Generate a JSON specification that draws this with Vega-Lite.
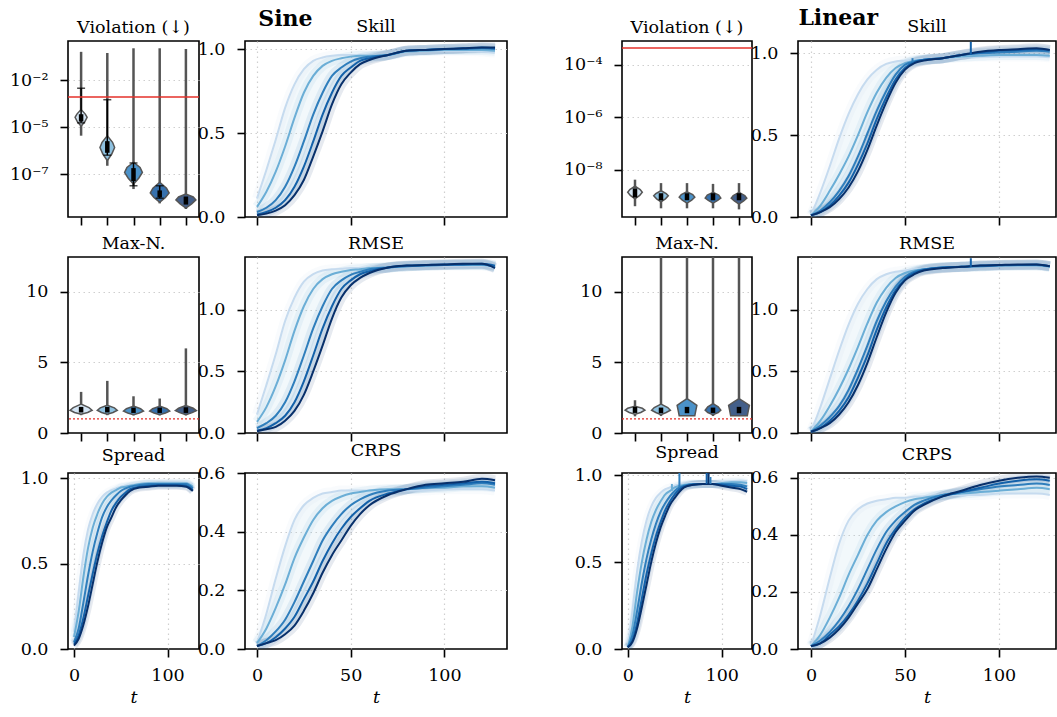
{
"$schema": "https://vega.github.io/schema/vega-lite/v6.json",
"background": "white",
"padding": {"left": 8, "top": 6, "right": 0, "bottom": 0},
"columns": 5,
"spacing": {"row": 40, "column": 46},
"bounds": "flush",
"config": {
  "font": "DejaVu Serif",
  "view": {"stroke": "black", "strokeWidth": 1.6},
  "axis": {"domain": false, "tickColor": "black", "tickSize": 8, "tickWidth": 1.6, "labelFont": "DejaVu Serif", "labelFontSize": 17.5, "labelColor": "black", "labelFlush": false, "labelOverlap": false, "gridColor": "#cfcfcf", "gridDash": [1.5, 3.5], "gridWidth": 1.2, "titleFont": "DejaVu Serif", "titleFontSize": 17.5, "titleFontWeight": "normal", "titleFontStyle": "italic", "titleColor": "black", "titlePadding": 5},
  "axisX": {"labelPadding": 9},
  "axisY": {"labelPadding": 12, "gridOpacity": {"condition": {"test": "datum.value == 0", "value": 0}, "value": 1}},
  "title": {"font": "DejaVu Serif", "fontSize": 17.5, "fontWeight": "normal", "color": "black", "offset": 5}
},
"datasets": {
"curves": [
{"g":"Sine","m":"Skill","t":0,"a":0.11,"b":0.06,"c":0.03,"d":0.015,"e":0.01},
{"g":"Sine","m":"Skill","t":5,"a":0.28,"b":0.15,"c":0.055,"d":0.03,"e":0.02},
{"g":"Sine","m":"Skill","t":10,"a":0.46,"b":0.27,"c":0.10,"d":0.055,"e":0.038},
{"g":"Sine","m":"Skill","t":15,"a":0.65,"b":0.42,"c":0.18,"d":0.10,"e":0.07},
{"g":"Sine","m":"Skill","t":20,"a":0.79,"b":0.59,"c":0.30,"d":0.18,"e":0.13},
{"g":"Sine","m":"Skill","t":25,"a":0.88,"b":0.74,"c":0.45,"d":0.30,"e":0.22},
{"g":"Sine","m":"Skill","t":30,"a":0.93,"b":0.84,"c":0.61,"d":0.45,"e":0.36},
{"g":"Sine","m":"Skill","t":35,"a":0.95,"b":0.90,"c":0.74,"d":0.61,"e":0.51},
{"g":"Sine","m":"Skill","t":40,"a":0.96,"b":0.93,"c":0.84,"d":0.74,"e":0.67},
{"g":"Sine","m":"Skill","t":45,"a":0.965,"b":0.945,"c":0.89,"d":0.84,"e":0.79},
{"g":"Sine","m":"Skill","t":50,"a":0.965,"b":0.955,"c":0.925,"d":0.89,"e":0.86},
{"g":"Sine","m":"Skill","t":55,"a":0.965,"b":0.96,"c":0.945,"d":0.93,"e":0.91},
{"g":"Sine","m":"Skill","t":60,"a":0.96,"b":0.96,"c":0.955,"d":0.945,"e":0.935},
{"g":"Sine","m":"Skill","t":70,"a":0.965,"b":0.965,"c":0.965,"d":0.965,"e":0.965},
{"g":"Sine","m":"Skill","t":80,"a":0.985,"b":0.985,"c":0.99,"d":0.99,"e":0.99},
{"g":"Sine","m":"Skill","t":90,"a":0.99,"b":0.99,"c":0.995,"d":0.995,"e":0.995},
{"g":"Sine","m":"Skill","t":100,"a":0.99,"b":0.995,"c":1.0,"d":1.0,"e":1.0},
{"g":"Sine","m":"Skill","t":110,"a":0.99,"b":0.995,"c":1.0,"d":1.005,"e":1.005},
{"g":"Sine","m":"Skill","t":120,"a":0.985,"b":0.995,"c":1.005,"d":1.01,"e":1.01},
{"g":"Sine","m":"Skill","t":127,"a":0.98,"b":0.99,"c":1.0,"d":1.005,"e":1.01},
{"g":"Sine","m":"RMSE","t":0,"a":0.15,"b":0.09,"c":0.04,"d":0.02,"e":0.015},
{"g":"Sine","m":"RMSE","t":5,"a":0.39,"b":0.21,"c":0.08,"d":0.04,"e":0.03},
{"g":"Sine","m":"RMSE","t":10,"a":0.64,"b":0.38,"c":0.14,"d":0.08,"e":0.05},
{"g":"Sine","m":"RMSE","t":15,"a":0.91,"b":0.59,"c":0.25,"d":0.14,"e":0.10},
{"g":"Sine","m":"RMSE","t":20,"a":1.10,"b":0.83,"c":0.42,"d":0.25,"e":0.18},
{"g":"Sine","m":"RMSE","t":25,"a":1.23,"b":1.03,"c":0.63,"d":0.42,"e":0.31},
{"g":"Sine","m":"RMSE","t":30,"a":1.29,"b":1.17,"c":0.85,"d":0.63,"e":0.50},
{"g":"Sine","m":"RMSE","t":35,"a":1.32,"b":1.25,"c":1.03,"d":0.85,"e":0.71},
{"g":"Sine","m":"RMSE","t":40,"a":1.33,"b":1.29,"c":1.17,"d":1.03,"e":0.93},
{"g":"Sine","m":"RMSE","t":45,"a":1.335,"b":1.31,"c":1.24,"d":1.17,"e":1.10},
{"g":"Sine","m":"RMSE","t":50,"a":1.34,"b":1.325,"c":1.285,"d":1.24,"e":1.20},
{"g":"Sine","m":"RMSE","t":55,"a":1.34,"b":1.33,"c":1.31,"d":1.29,"e":1.26},
{"g":"Sine","m":"RMSE","t":60,"a":1.34,"b":1.34,"c":1.33,"d":1.315,"e":1.30},
{"g":"Sine","m":"RMSE","t":70,"a":1.345,"b":1.345,"c":1.345,"d":1.345,"e":1.345},
{"g":"Sine","m":"RMSE","t":80,"a":1.355,"b":1.355,"c":1.355,"d":1.36,"e":1.36},
{"g":"Sine","m":"RMSE","t":90,"a":1.36,"b":1.36,"c":1.36,"d":1.365,"e":1.365},
{"g":"Sine","m":"RMSE","t":100,"a":1.36,"b":1.365,"c":1.365,"d":1.37,"e":1.37},
{"g":"Sine","m":"RMSE","t":110,"a":1.36,"b":1.365,"c":1.37,"d":1.37,"e":1.375},
{"g":"Sine","m":"RMSE","t":120,"a":1.36,"b":1.365,"c":1.37,"d":1.375,"e":1.375},
{"g":"Sine","m":"RMSE","t":127,"a":1.34,"b":1.35,"c":1.35,"d":1.36,"e":1.34},
{"g":"Sine","m":"Spread","t":0,"a":0.10,"b":0.07,"c":0.04,"d":0.03,"e":0.02},
{"g":"Sine","m":"Spread","t":5,"a":0.33,"b":0.22,"c":0.12,"d":0.08,"e":0.06},
{"g":"Sine","m":"Spread","t":10,"a":0.55,"b":0.42,"c":0.27,"d":0.18,"e":0.14},
{"g":"Sine","m":"Spread","t":15,"a":0.70,"b":0.59,"c":0.43,"d":0.31,"e":0.25},
{"g":"Sine","m":"Spread","t":20,"a":0.79,"b":0.71,"c":0.57,"d":0.44,"e":0.38},
{"g":"Sine","m":"Spread","t":25,"a":0.85,"b":0.79,"c":0.68,"d":0.56,"e":0.51},
{"g":"Sine","m":"Spread","t":30,"a":0.89,"b":0.85,"c":0.77,"d":0.66,"e":0.62},
{"g":"Sine","m":"Spread","t":35,"a":0.915,"b":0.89,"c":0.83,"d":0.74,"e":0.71},
{"g":"Sine","m":"Spread","t":40,"a":0.93,"b":0.915,"c":0.87,"d":0.81,"e":0.77},
{"g":"Sine","m":"Spread","t":45,"a":0.94,"b":0.93,"c":0.90,"d":0.855,"e":0.83},
{"g":"Sine","m":"Spread","t":50,"a":0.95,"b":0.945,"c":0.925,"d":0.89,"e":0.87},
{"g":"Sine","m":"Spread","t":55,"a":0.955,"b":0.95,"c":0.94,"d":0.915,"e":0.90},
{"g":"Sine","m":"Spread","t":60,"a":0.96,"b":0.955,"c":0.95,"d":0.935,"e":0.925},
{"g":"Sine","m":"Spread","t":70,"a":0.965,"b":0.965,"c":0.96,"d":0.95,"e":0.945},
{"g":"Sine","m":"Spread","t":80,"a":0.97,"b":0.97,"c":0.965,"d":0.955,"e":0.95},
{"g":"Sine","m":"Spread","t":90,"a":0.97,"b":0.97,"c":0.965,"d":0.96,"e":0.955},
{"g":"Sine","m":"Spread","t":100,"a":0.975,"b":0.97,"c":0.965,"d":0.96,"e":0.955},
{"g":"Sine","m":"Spread","t":110,"a":0.975,"b":0.97,"c":0.965,"d":0.96,"e":0.955},
{"g":"Sine","m":"Spread","t":120,"a":0.975,"b":0.97,"c":0.965,"d":0.955,"e":0.95},
{"g":"Sine","m":"Spread","t":127,"a":0.965,"b":0.95,"c":0.94,"d":0.93,"e":0.925},
{"g":"Sine","m":"CRPS","t":0,"a":0.02,"b":0.02,"c":0.01,"d":0.01,"e":0.01},
{"g":"Sine","m":"CRPS","t":5,"a":0.12,"b":0.07,"c":0.03,"d":0.02,"e":0.02},
{"g":"Sine","m":"CRPS","t":10,"a":0.24,"b":0.14,"c":0.06,"d":0.04,"e":0.03},
{"g":"Sine","m":"CRPS","t":15,"a":0.35,"b":0.22,"c":0.10,"d":0.07,"e":0.05},
{"g":"Sine","m":"CRPS","t":20,"a":0.44,"b":0.31,"c":0.16,"d":0.11,"e":0.08},
{"g":"Sine","m":"CRPS","t":25,"a":0.49,"b":0.38,"c":0.23,"d":0.17,"e":0.13},
{"g":"Sine","m":"CRPS","t":30,"a":0.515,"b":0.44,"c":0.30,"d":0.23,"e":0.19},
{"g":"Sine","m":"CRPS","t":35,"a":0.53,"b":0.48,"c":0.37,"d":0.30,"e":0.26},
{"g":"Sine","m":"CRPS","t":40,"a":0.535,"b":0.505,"c":0.42,"d":0.36,"e":0.32},
{"g":"Sine","m":"CRPS","t":45,"a":0.54,"b":0.52,"c":0.46,"d":0.41,"e":0.37},
{"g":"Sine","m":"CRPS","t":50,"a":0.54,"b":0.53,"c":0.49,"d":0.45,"e":0.42},
{"g":"Sine","m":"CRPS","t":55,"a":0.54,"b":0.535,"c":0.51,"d":0.48,"e":0.46},
{"g":"Sine","m":"CRPS","t":60,"a":0.54,"b":0.54,"c":0.525,"d":0.505,"e":0.49},
{"g":"Sine","m":"CRPS","t":70,"a":0.54,"b":0.545,"c":0.54,"d":0.53,"e":0.525},
{"g":"Sine","m":"CRPS","t":80,"a":0.54,"b":0.545,"c":0.545,"d":0.545,"e":0.545},
{"g":"Sine","m":"CRPS","t":90,"a":0.54,"b":0.55,"c":0.55,"d":0.555,"e":0.56},
{"g":"Sine","m":"CRPS","t":100,"a":0.545,"b":0.55,"c":0.555,"d":0.56,"e":0.565},
{"g":"Sine","m":"CRPS","t":110,"a":0.545,"b":0.555,"c":0.56,"d":0.565,"e":0.57},
{"g":"Sine","m":"CRPS","t":120,"a":0.545,"b":0.555,"c":0.565,"d":0.57,"e":0.58},
{"g":"Sine","m":"CRPS","t":127,"a":0.54,"b":0.55,"c":0.56,"d":0.565,"e":0.575},
{"g":"Linear","m":"Skill","t":0,"a":0.01,"b":0.01,"c":0.01,"d":0.01,"e":0.01},
{"g":"Linear","m":"Skill","t":5,"a":0.15,"b":0.07,"c":0.04,"d":0.03,"e":0.03},
{"g":"Linear","m":"Skill","t":10,"a":0.31,"b":0.16,"c":0.09,"d":0.07,"e":0.06},
{"g":"Linear","m":"Skill","t":15,"a":0.48,"b":0.26,"c":0.16,"d":0.13,"e":0.11},
{"g":"Linear","m":"Skill","t":20,"a":0.63,"b":0.37,"c":0.25,"d":0.21,"e":0.18},
{"g":"Linear","m":"Skill","t":25,"a":0.75,"b":0.50,"c":0.37,"d":0.32,"e":0.28},
{"g":"Linear","m":"Skill","t":30,"a":0.84,"b":0.64,"c":0.51,"d":0.45,"e":0.41},
{"g":"Linear","m":"Skill","t":35,"a":0.90,"b":0.76,"c":0.65,"d":0.60,"e":0.56},
{"g":"Linear","m":"Skill","t":40,"a":0.935,"b":0.85,"c":0.77,"d":0.73,"e":0.70},
{"g":"Linear","m":"Skill","t":45,"a":0.95,"b":0.91,"c":0.87,"d":0.84,"e":0.82},
{"g":"Linear","m":"Skill","t":50,"a":0.955,"b":0.94,"c":0.93,"d":0.91,"e":0.90},
{"g":"Linear","m":"Skill","t":55,"a":0.96,"b":0.955,"c":0.95,"d":0.945,"e":0.94},
{"g":"Linear","m":"Skill","t":60,"a":0.965,"b":0.96,"c":0.96,"d":0.96,"e":0.955},
{"g":"Linear","m":"Skill","t":70,"a":0.97,"b":0.97,"c":0.97,"d":0.97,"e":0.97},
{"g":"Linear","m":"Skill","t":80,"a":0.975,"b":0.98,"c":0.99,"d":0.99,"e":0.99},
{"g":"Linear","m":"Skill","t":90,"a":0.98,"b":0.985,"c":1.0,"d":1.005,"e":1.01},
{"g":"Linear","m":"Skill","t":100,"a":0.98,"b":0.99,"c":1.005,"d":1.015,"e":1.02},
{"g":"Linear","m":"Skill","t":110,"a":0.98,"b":0.99,"c":1.01,"d":1.02,"e":1.025},
{"g":"Linear","m":"Skill","t":120,"a":0.98,"b":0.99,"c":1.015,"d":1.025,"e":1.03},
{"g":"Linear","m":"Skill","t":127,"a":0.975,"b":0.985,"c":1.01,"d":1.02,"e":1.02},
{"g":"Linear","m":"RMSE","t":0,"a":0.01,"b":0.01,"c":0.01,"d":0.01,"e":0.01},
{"g":"Linear","m":"RMSE","t":5,"a":0.21,"b":0.10,"c":0.06,"d":0.04,"e":0.04},
{"g":"Linear","m":"RMSE","t":10,"a":0.44,"b":0.22,"c":0.13,"d":0.10,"e":0.08},
{"g":"Linear","m":"RMSE","t":15,"a":0.67,"b":0.36,"c":0.22,"d":0.18,"e":0.15},
{"g":"Linear","m":"RMSE","t":20,"a":0.88,"b":0.52,"c":0.35,"d":0.29,"e":0.25},
{"g":"Linear","m":"RMSE","t":25,"a":1.05,"b":0.70,"c":0.52,"d":0.45,"e":0.39},
{"g":"Linear","m":"RMSE","t":30,"a":1.17,"b":0.89,"c":0.71,"d":0.63,"e":0.57},
{"g":"Linear","m":"RMSE","t":35,"a":1.25,"b":1.06,"c":0.91,"d":0.84,"e":0.78},
{"g":"Linear","m":"RMSE","t":40,"a":1.29,"b":1.18,"c":1.07,"d":1.02,"e":0.98},
{"g":"Linear","m":"RMSE","t":45,"a":1.31,"b":1.26,"c":1.19,"d":1.16,"e":1.14},
{"g":"Linear","m":"RMSE","t":50,"a":1.32,"b":1.30,"c":1.27,"d":1.25,"e":1.24},
{"g":"Linear","m":"RMSE","t":55,"a":1.33,"b":1.32,"c":1.31,"d":1.30,"e":1.29},
{"g":"Linear","m":"RMSE","t":60,"a":1.335,"b":1.33,"c":1.33,"d":1.325,"e":1.32},
{"g":"Linear","m":"RMSE","t":70,"a":1.345,"b":1.345,"c":1.345,"d":1.345,"e":1.34},
{"g":"Linear","m":"RMSE","t":80,"a":1.35,"b":1.35,"c":1.35,"d":1.35,"e":1.35},
{"g":"Linear","m":"RMSE","t":90,"a":1.355,"b":1.355,"c":1.355,"d":1.36,"e":1.36},
{"g":"Linear","m":"RMSE","t":100,"a":1.36,"b":1.36,"c":1.36,"d":1.365,"e":1.365},
{"g":"Linear","m":"RMSE","t":110,"a":1.36,"b":1.36,"c":1.365,"d":1.365,"e":1.37},
{"g":"Linear","m":"RMSE","t":120,"a":1.36,"b":1.36,"c":1.365,"d":1.37,"e":1.37},
{"g":"Linear","m":"RMSE","t":127,"a":1.35,"b":1.35,"c":1.355,"d":1.355,"e":1.355},
{"g":"Linear","m":"Spread","t":0,"a":0.01,"b":0.01,"c":0.01,"d":0.01,"e":0.01},
{"g":"Linear","m":"Spread","t":5,"a":0.22,"b":0.13,"c":0.08,"d":0.05,"e":0.04},
{"g":"Linear","m":"Spread","t":10,"a":0.45,"b":0.33,"c":0.22,"d":0.15,"e":0.12},
{"g":"Linear","m":"Spread","t":15,"a":0.62,"b":0.50,"c":0.38,"d":0.29,"e":0.24},
{"g":"Linear","m":"Spread","t":20,"a":0.74,"b":0.63,"c":0.52,"d":0.43,"e":0.37},
{"g":"Linear","m":"Spread","t":25,"a":0.82,"b":0.73,"c":0.63,"d":0.55,"e":0.50},
{"g":"Linear","m":"Spread","t":30,"a":0.87,"b":0.80,"c":0.72,"d":0.65,"e":0.61},
{"g":"Linear","m":"Spread","t":35,"a":0.90,"b":0.85,"c":0.79,"d":0.73,"e":0.70},
{"g":"Linear","m":"Spread","t":40,"a":0.92,"b":0.89,"c":0.84,"d":0.80,"e":0.77},
{"g":"Linear","m":"Spread","t":45,"a":0.93,"b":0.91,"c":0.88,"d":0.85,"e":0.83},
{"g":"Linear","m":"Spread","t":50,"a":0.94,"b":0.93,"c":0.91,"d":0.89,"e":0.87},
{"g":"Linear","m":"Spread","t":55,"a":0.945,"b":0.94,"c":0.93,"d":0.92,"e":0.905},
{"g":"Linear","m":"Spread","t":60,"a":0.95,"b":0.945,"c":0.94,"d":0.935,"e":0.93},
{"g":"Linear","m":"Spread","t":70,"a":0.955,"b":0.95,"c":0.95,"d":0.945,"e":0.945},
{"g":"Linear","m":"Spread","t":80,"a":0.955,"b":0.95,"c":0.95,"d":0.95,"e":0.95},
{"g":"Linear","m":"Spread","t":90,"a":0.955,"b":0.95,"c":0.95,"d":0.95,"e":0.95},
{"g":"Linear","m":"Spread","t":100,"a":0.96,"b":0.955,"c":0.95,"d":0.945,"e":0.94},
{"g":"Linear","m":"Spread","t":110,"a":0.965,"b":0.96,"c":0.95,"d":0.94,"e":0.93},
{"g":"Linear","m":"Spread","t":120,"a":0.97,"b":0.96,"c":0.945,"d":0.935,"e":0.92},
{"g":"Linear","m":"Spread","t":127,"a":0.965,"b":0.955,"c":0.935,"d":0.92,"e":0.905},
{"g":"Linear","m":"CRPS","t":0,"a":0.01,"b":0.01,"c":0.01,"d":0.01,"e":0.01},
{"g":"Linear","m":"CRPS","t":5,"a":0.12,"b":0.05,"c":0.03,"d":0.02,"e":0.02},
{"g":"Linear","m":"CRPS","t":10,"a":0.25,"b":0.11,"c":0.06,"d":0.05,"e":0.04},
{"g":"Linear","m":"CRPS","t":15,"a":0.37,"b":0.18,"c":0.10,"d":0.08,"e":0.07},
{"g":"Linear","m":"CRPS","t":20,"a":0.45,"b":0.26,"c":0.15,"d":0.12,"e":0.11},
{"g":"Linear","m":"CRPS","t":25,"a":0.49,"b":0.33,"c":0.21,"d":0.17,"e":0.16},
{"g":"Linear","m":"CRPS","t":30,"a":0.51,"b":0.40,"c":0.28,"d":0.23,"e":0.21},
{"g":"Linear","m":"CRPS","t":35,"a":0.52,"b":0.45,"c":0.35,"d":0.30,"e":0.28},
{"g":"Linear","m":"CRPS","t":40,"a":0.525,"b":0.48,"c":0.41,"d":0.37,"e":0.35},
{"g":"Linear","m":"CRPS","t":45,"a":0.53,"b":0.50,"c":0.45,"d":0.42,"e":0.41},
{"g":"Linear","m":"CRPS","t":50,"a":0.53,"b":0.515,"c":0.48,"d":0.46,"e":0.45},
{"g":"Linear","m":"CRPS","t":55,"a":0.535,"b":0.525,"c":0.505,"d":0.49,"e":0.485},
{"g":"Linear","m":"CRPS","t":60,"a":0.535,"b":0.53,"c":0.52,"d":0.51,"e":0.505},
{"g":"Linear","m":"CRPS","t":70,"a":0.54,"b":0.54,"c":0.54,"d":0.535,"e":0.535},
{"g":"Linear","m":"CRPS","t":80,"a":0.54,"b":0.545,"c":0.55,"d":0.55,"e":0.555},
{"g":"Linear","m":"CRPS","t":90,"a":0.54,"b":0.55,"c":0.56,"d":0.565,"e":0.575},
{"g":"Linear","m":"CRPS","t":100,"a":0.545,"b":0.555,"c":0.57,"d":0.58,"e":0.59},
{"g":"Linear","m":"CRPS","t":110,"a":0.545,"b":0.56,"c":0.575,"d":0.59,"e":0.60},
{"g":"Linear","m":"CRPS","t":120,"a":0.545,"b":0.565,"c":0.58,"d":0.595,"e":0.605},
{"g":"Linear","m":"CRPS","t":127,"a":0.54,"b":0.56,"c":0.575,"d":0.59,"e":0.60}
],
"spikes": [
{"g":"Linear","m":"Skill","t":85,"s":"d","lo":0.99,"hi":1.07},
{"g":"Linear","m":"Skill","t":54,"s":"c","lo":0.945,"hi":0.97},
{"g":"Linear","m":"RMSE","t":85,"s":"d","lo":1.35,"hi":1.42},
{"g":"Linear","m":"Spread","t":47,"s":"b","lo":0.91,"hi":0.95},
{"g":"Linear","m":"Spread","t":55,"s":"c","lo":0.93,"hi":1.05},
{"g":"Linear","m":"Spread","t":84,"s":"d","lo":0.95,"hi":1.02},
{"g":"Linear","m":"Spread","t":86,"s":"e","lo":0.95,"hi":1.02},
{"g":"Linear","m":"Spread","t":88,"s":"c","lo":0.95,"hi":0.99}
],
"vio": [
{"g":"Sine","m":"Violation","c":1,"y":5.5e-5,"xl":1,"xr":1},
{"g":"Sine","m":"Violation","c":1,"y":3.55e-5,"xl":0.84,"xr":1.16},
{"g":"Sine","m":"Violation","c":1,"y":2.57e-5,"xl":0.77,"xr":1.23},
{"g":"Sine","m":"Violation","c":1,"y":1.66e-5,"xl":0.86,"xr":1.14},
{"g":"Sine","m":"Violation","c":1,"y":1.1e-5,"xl":1,"xr":1},
{"g":"Sine","m":"Violation","c":2,"y":4.27e-6,"xl":2,"xr":2},
{"g":"Sine","m":"Violation","c":2,"y":2.24e-6,"xl":1.8,"xr":2.2},
{"g":"Sine","m":"Violation","c":2,"y":1.35e-6,"xl":1.72,"xr":2.28},
{"g":"Sine","m":"Violation","c":2,"y":7.08e-7,"xl":1.83,"xr":2.17},
{"g":"Sine","m":"Violation","c":2,"y":3.72e-7,"xl":2,"xr":2},
{"g":"Sine","m":"Violation","c":3,"y":3.16e-7,"xl":3,"xr":3},
{"g":"Sine","m":"Violation","c":3,"y":1.91e-7,"xl":2.75,"xr":3.25},
{"g":"Sine","m":"Violation","c":3,"y":1.17e-7,"xl":2.66,"xr":3.34},
{"g":"Sine","m":"Violation","c":3,"y":6.61e-8,"xl":2.8,"xr":3.2},
{"g":"Sine","m":"Violation","c":3,"y":3.72e-8,"xl":3,"xr":3},
{"g":"Sine","m":"Violation","c":4,"y":4.47e-8,"xl":4,"xr":4},
{"g":"Sine","m":"Violation","c":4,"y":2.51e-8,"xl":3.74,"xr":4.26},
{"g":"Sine","m":"Violation","c":4,"y":1.55e-8,"xl":3.64,"xr":4.36},
{"g":"Sine","m":"Violation","c":4,"y":1.0e-8,"xl":3.78,"xr":4.22},
{"g":"Sine","m":"Violation","c":4,"y":6.31e-9,"xl":4,"xr":4},
{"g":"Sine","m":"Violation","c":5,"y":1.41e-8,"xl":5,"xr":5},
{"g":"Sine","m":"Violation","c":5,"y":1.05e-8,"xl":4.72,"xr":5.28},
{"g":"Sine","m":"Violation","c":5,"y":7.94e-9,"xl":4.62,"xr":5.38},
{"g":"Sine","m":"Violation","c":5,"y":5.37e-9,"xl":4.78,"xr":5.22},
{"g":"Sine","m":"Violation","c":5,"y":3.55e-9,"xl":5,"xr":5},
{"g":"Linear","m":"Violation","c":1,"y":2.4e-9,"xl":1,"xr":1},
{"g":"Linear","m":"Violation","c":1,"y":1.78e-9,"xl":0.8,"xr":1.2},
{"g":"Linear","m":"Violation","c":1,"y":1.41e-9,"xl":0.72,"xr":1.28},
{"g":"Linear","m":"Violation","c":1,"y":1.07e-9,"xl":0.82,"xr":1.18},
{"g":"Linear","m":"Violation","c":1,"y":7.94e-10,"xl":1,"xr":1},
{"g":"Linear","m":"Violation","c":2,"y":1.62e-9,"xl":2,"xr":2},
{"g":"Linear","m":"Violation","c":2,"y":1.26e-9,"xl":1.8,"xr":2.2},
{"g":"Linear","m":"Violation","c":2,"y":1.05e-9,"xl":1.72,"xr":2.28},
{"g":"Linear","m":"Violation","c":2,"y":7.94e-10,"xl":1.83,"xr":2.17},
{"g":"Linear","m":"Violation","c":2,"y":6.17e-10,"xl":2,"xr":2},
{"g":"Linear","m":"Violation","c":3,"y":1.48e-9,"xl":3,"xr":3},
{"g":"Linear","m":"Violation","c":3,"y":1.15e-9,"xl":2.78,"xr":3.22},
{"g":"Linear","m":"Violation","c":3,"y":9.12e-10,"xl":2.7,"xr":3.3},
{"g":"Linear","m":"Violation","c":3,"y":7.08e-10,"xl":2.82,"xr":3.18},
{"g":"Linear","m":"Violation","c":3,"y":5.5e-10,"xl":3,"xr":3},
{"g":"Linear","m":"Violation","c":4,"y":1.41e-9,"xl":4,"xr":4},
{"g":"Linear","m":"Violation","c":4,"y":1.1e-9,"xl":3.78,"xr":4.22},
{"g":"Linear","m":"Violation","c":4,"y":8.51e-10,"xl":3.7,"xr":4.3},
{"g":"Linear","m":"Violation","c":4,"y":6.92e-10,"xl":3.82,"xr":4.18},
{"g":"Linear","m":"Violation","c":4,"y":5.5e-10,"xl":4,"xr":4},
{"g":"Linear","m":"Violation","c":5,"y":1.41e-9,"xl":5,"xr":5},
{"g":"Linear","m":"Violation","c":5,"y":1.07e-9,"xl":4.78,"xr":5.22},
{"g":"Linear","m":"Violation","c":5,"y":8.51e-10,"xl":4.7,"xr":5.3},
{"g":"Linear","m":"Violation","c":5,"y":6.61e-10,"xl":4.82,"xr":5.18},
{"g":"Linear","m":"Violation","c":5,"y":5.01e-10,"xl":5,"xr":5},
{"g":"Sine","m":"MaxN","c":1,"y":2.04,"xl":1,"xr":1},
{"g":"Sine","m":"MaxN","c":1,"y":1.8,"xl":0.7,"xr":1.3},
{"g":"Sine","m":"MaxN","c":1,"y":1.61,"xl":0.58,"xr":1.42},
{"g":"Sine","m":"MaxN","c":1,"y":1.45,"xl":0.75,"xr":1.25},
{"g":"Sine","m":"MaxN","c":1,"y":1.33,"xl":1,"xr":1},
{"g":"Sine","m":"MaxN","c":2,"y":1.96,"xl":2,"xr":2},
{"g":"Sine","m":"MaxN","c":2,"y":1.78,"xl":1.73,"xr":2.27},
{"g":"Sine","m":"MaxN","c":2,"y":1.61,"xl":1.62,"xr":2.38},
{"g":"Sine","m":"MaxN","c":2,"y":1.45,"xl":1.78,"xr":2.22},
{"g":"Sine","m":"MaxN","c":2,"y":1.33,"xl":2,"xr":2},
{"g":"Sine","m":"MaxN","c":3,"y":1.9,"xl":3,"xr":3},
{"g":"Sine","m":"MaxN","c":3,"y":1.72,"xl":2.73,"xr":3.27},
{"g":"Sine","m":"MaxN","c":3,"y":1.55,"xl":2.62,"xr":3.38},
{"g":"Sine","m":"MaxN","c":3,"y":1.42,"xl":2.78,"xr":3.22},
{"g":"Sine","m":"MaxN","c":3,"y":1.3,"xl":3,"xr":3},
{"g":"Sine","m":"MaxN","c":4,"y":1.9,"xl":4,"xr":4},
{"g":"Sine","m":"MaxN","c":4,"y":1.72,"xl":3.73,"xr":4.27},
{"g":"Sine","m":"MaxN","c":4,"y":1.55,"xl":3.62,"xr":4.38},
{"g":"Sine","m":"MaxN","c":4,"y":1.42,"xl":3.78,"xr":4.22},
{"g":"Sine","m":"MaxN","c":4,"y":1.3,"xl":4,"xr":4},
{"g":"Sine","m":"MaxN","c":5,"y":1.95,"xl":5,"xr":5},
{"g":"Sine","m":"MaxN","c":5,"y":1.75,"xl":4.72,"xr":5.28},
{"g":"Sine","m":"MaxN","c":5,"y":1.58,"xl":4.6,"xr":5.4},
{"g":"Sine","m":"MaxN","c":5,"y":1.44,"xl":4.76,"xr":5.24},
{"g":"Sine","m":"MaxN","c":5,"y":1.3,"xl":5,"xr":5},
{"g":"Linear","m":"MaxN","c":1,"y":1.89,"xl":1,"xr":1},
{"g":"Linear","m":"MaxN","c":1,"y":1.75,"xl":0.72,"xr":1.28},
{"g":"Linear","m":"MaxN","c":1,"y":1.61,"xl":0.62,"xr":1.38},
{"g":"Linear","m":"MaxN","c":1,"y":1.45,"xl":0.78,"xr":1.22},
{"g":"Linear","m":"MaxN","c":1,"y":1.33,"xl":1,"xr":1},
{"g":"Linear","m":"MaxN","c":2,"y":2.04,"xl":2,"xr":2},
{"g":"Linear","m":"MaxN","c":2,"y":1.8,"xl":1.74,"xr":2.26},
{"g":"Linear","m":"MaxN","c":2,"y":1.61,"xl":1.64,"xr":2.36},
{"g":"Linear","m":"MaxN","c":2,"y":1.45,"xl":1.8,"xr":2.2},
{"g":"Linear","m":"MaxN","c":2,"y":1.3,"xl":2,"xr":2},
{"g":"Linear","m":"MaxN","c":3,"y":2.44,"xl":3,"xr":3},
{"g":"Linear","m":"MaxN","c":3,"y":2.2,"xl":2.81,"xr":3.19},
{"g":"Linear","m":"MaxN","c":3,"y":1.96,"xl":2.62,"xr":3.38},
{"g":"Linear","m":"MaxN","c":3,"y":1.6,"xl":2.66,"xr":3.34},
{"g":"Linear","m":"MaxN","c":3,"y":1.23,"xl":2.7,"xr":3.3},
{"g":"Linear","m":"MaxN","c":4,"y":2.08,"xl":4,"xr":4},
{"g":"Linear","m":"MaxN","c":4,"y":1.85,"xl":3.8,"xr":4.2},
{"g":"Linear","m":"MaxN","c":4,"y":1.61,"xl":3.7,"xr":4.3},
{"g":"Linear","m":"MaxN","c":4,"y":1.45,"xl":3.8,"xr":4.2},
{"g":"Linear","m":"MaxN","c":4,"y":1.3,"xl":4,"xr":4},
{"g":"Linear","m":"MaxN","c":5,"y":2.44,"xl":5,"xr":5},
{"g":"Linear","m":"MaxN","c":5,"y":2.2,"xl":4.8,"xr":5.2},
{"g":"Linear","m":"MaxN","c":5,"y":1.96,"xl":4.6,"xr":5.4},
{"g":"Linear","m":"MaxN","c":5,"y":1.6,"xl":4.64,"xr":5.36},
{"g":"Linear","m":"MaxN","c":5,"y":1.23,"xl":4.68,"xr":5.32}
],
"vst": [
{"g":"Sine","m":"Violation","c":1,"lo":4.27e-6,"hi":0.0158,"q1":1.7e-5,"q3":3.5e-5},
{"g":"Sine","m":"Violation","c":2,"lo":2.24e-7,"hi":0.0141,"q1":8e-7,"q3":2.5e-6},
{"g":"Sine","m":"Violation","c":3,"lo":2.29e-8,"hi":0.0224,"q1":5e-8,"q3":1.78e-7},
{"g":"Sine","m":"Violation","c":4,"lo":5.62e-9,"hi":0.0224,"q1":1e-8,"q3":2e-8},
{"g":"Sine","m":"Violation","c":5,"lo":3.24e-9,"hi":0.0209,"q1":5e-9,"q3":1.1e-8},
{"g":"Linear","m":"Violation","c":1,"lo":4.17e-10,"hi":4.27e-9,"q1":8.9e-10,"q3":2e-9},
{"g":"Linear","m":"Violation","c":2,"lo":3.47e-10,"hi":3.16e-9,"q1":7e-10,"q3":1.3e-9},
{"g":"Linear","m":"Violation","c":3,"lo":3.47e-10,"hi":3.16e-9,"q1":7e-10,"q3":1.3e-9},
{"g":"Linear","m":"Violation","c":4,"lo":3.47e-10,"hi":2.95e-9,"q1":7e-10,"q3":1.3e-9},
{"g":"Linear","m":"Violation","c":5,"lo":3.16e-10,"hi":3.16e-9,"q1":7e-10,"q3":1.3e-9},
{"g":"Sine","m":"MaxN","c":1,"lo":1.26,"hi":2.91,"q1":1.45,"q3":1.85},
{"g":"Sine","m":"MaxN","c":2,"lo":1.26,"hi":3.69,"q1":1.45,"q3":1.85},
{"g":"Sine","m":"MaxN","c":3,"lo":1.25,"hi":2.6,"q1":1.42,"q3":1.8},
{"g":"Sine","m":"MaxN","c":4,"lo":1.25,"hi":2.44,"q1":1.42,"q3":1.8},
{"g":"Sine","m":"MaxN","c":5,"lo":1.25,"hi":5.99,"q1":1.42,"q3":1.82},
{"g":"Linear","m":"MaxN","c":1,"lo":1.18,"hi":2.32,"q1":1.42,"q3":1.85},
{"g":"Linear","m":"MaxN","c":2,"lo":1.2,"hi":13,"q1":1.4,"q3":1.8},
{"g":"Linear","m":"MaxN","c":3,"lo":1.2,"hi":13,"q1":1.4,"q3":1.85},
{"g":"Linear","m":"MaxN","c":4,"lo":1.2,"hi":13,"q1":1.42,"q3":1.8},
{"g":"Linear","m":"MaxN","c":5,"lo":1.2,"hi":13,"q1":1.4,"q3":1.85}
],
"vwh": [
{"g":"Sine","m":"Violation","c":1,"wlo":1.5e-5,"whi":4.47e-4},
{"g":"Sine","m":"Violation","c":2,"wlo":6.3e-7,"whi":1.45e-4},
{"g":"Sine","m":"Violation","c":3,"wlo":3.16e-8,"whi":2.95e-7},
{"g":"Sine","m":"Violation","c":4,"wlo":9.3e-9,"whi":3.16e-8}
]
},
"concat": [
{
 "title": "Violation (↓)", "width": 131, "height": 176,
 "layer": [
  {"data": {"name": "vst"}, "transform": [{"filter": "datum.g == 'Sine' && datum.m == 'Violation'"}],
   "mark": {"type": "rule", "color": "#555555", "strokeWidth": 2.5, "clip": true},
   "encoding": {
    "x": {"field": "c", "type": "quantitative", "title": null, "scale": {"domain": [0.5, 5.5], "nice": false, "zero": false}, "axis": {"values": [1, 2, 3, 4, 5], "tickCount": 10, "labels": false, "grid": false}},
    "y": {"field": "lo", "type": "quantitative", "title": null, "scale": {"type": "log", "domain": [1.48e-9, 0.0457], "nice": false}, "axis": {"values": [0.001, 0.00001, 0.0000001], "tickCount": 10, "labelExpr": "datum.value > 0.0001 ? '10⁻²' : datum.value > 0.000001 ? '10⁻⁵' : '10⁻⁷'", "grid": true}},
    "y2": {"field": "hi"}}},
  {"data": {"name": "vio"}, "transform": [{"filter": "datum.g == 'Sine' && datum.m == 'Violation'"}],
   "mark": {"type": "area", "orient": "horizontal", "stroke": "#555555", "strokeWidth": 1.5, "clip": true},
   "encoding": {
    "y": {"field": "y", "type": "quantitative", "title": null},
    "x": {"field": "xl", "type": "quantitative", "title": null},
    "x2": {"field": "xr"},
    "detail": {"field": "c", "type": "nominal"},
    "fill": {"field": "c", "type": "nominal", "scale": {"domain": [1, 2, 3, 4, 5], "range": ["#d4e5f4", "#8ec1e0", "#4b92c9", "#3671ae", "#435f8a"]}, "legend": null}}},
  {"data": {"name": "vwh"}, "transform": [{"filter": "datum.g == 'Sine' && datum.m == 'Violation'"}],
   "mark": {"type": "rule", "color": "black", "strokeWidth": 1.5},
   "encoding": {"x": {"field": "c", "type": "quantitative", "title": null}, "y": {"field": "wlo", "type": "quantitative", "title": null}, "y2": {"field": "whi"}}},
  {"data": {"name": "vwh"}, "transform": [{"filter": "datum.g == 'Sine' && datum.m == 'Violation'"}],
   "mark": {"type": "tick", "orient": "horizontal", "color": "black", "thickness": 1.5, "size": 8},
   "encoding": {"x": {"field": "c", "type": "quantitative", "title": null}, "y": {"field": "whi", "type": "quantitative", "title": null}}},
  {"data": {"name": "vwh"}, "transform": [{"filter": "datum.g == 'Sine' && datum.m == 'Violation'"}],
   "mark": {"type": "tick", "orient": "horizontal", "color": "black", "thickness": 1.5, "size": 8},
   "encoding": {"x": {"field": "c", "type": "quantitative", "title": null}, "y": {"field": "wlo", "type": "quantitative", "title": null}}},
  {"data": {"name": "vst"}, "transform": [{"filter": "datum.g == 'Sine' && datum.m == 'Violation'"}],
   "mark": {"type": "rule", "color": "black", "strokeWidth": 4.5},
   "encoding": {"x": {"field": "c", "type": "quantitative", "title": null}, "y": {"field": "q1", "type": "quantitative", "title": null}, "y2": {"field": "q3"}}},
  {"data": {"values": [{}]}, "mark": {"type": "rule", "color": "#e5302a", "strokeWidth": 1.5},
   "encoding": {"y": {"datum": 0.00019}}}
 ]
},
{
 "title": {"text": "Skill", "dy": 33}, "width": 262, "height": 176,
 "layer": [
  {"data": {"name": "curves"}, "transform": [{"filter": "datum.g == 'Sine' && datum.m == 'Skill'"}],
   "mark": {"type": "area", "color": "#9ecae1", "opacity": 0.13, "interpolate": "monotone", "clip": true},
   "encoding": {
    "x": {"field": "t", "type": "quantitative", "title": null, "scale": {"domain": [-6.4, 133.4], "nice": false, "zero": false}, "axis": {"values": [0, 50, 100], "labels": false, "grid": true}},
    "y": {"field": "e", "type": "quantitative", "title": null, "scale": {"domain": [0, 1.048], "nice": false, "zero": false}, "axis": {"values": [0, 0.5, 1], "format": ".1f", "grid": true}},
    "y2": {"field": "a"}}},
  {"data": {"name": "curves"}, "transform": [{"filter": "datum.g == 'Sine' && datum.m == 'Skill'"}, {"fold": ["a", "b", "c", "d", "e"], "as": ["s", "v"]}],
   "mark": {"type": "line", "strokeWidth": 10, "opacity": 0.1, "interpolate": "monotone", "clip": true},
   "encoding": {"x": {"field": "t", "type": "quantitative", "title": null}, "y": {"field": "v", "type": "quantitative", "title": null},
    "color": {"field": "s", "type": "nominal", "scale": {"domain": ["a", "b", "c", "d", "e"], "range": ["#c6dbef", "#6baed6", "#2f7ebc", "#1361a9", "#08306b"]}, "legend": null}}},
  {"data": {"name": "curves"}, "transform": [{"filter": "datum.g == 'Sine' && datum.m == 'Skill'"}, {"fold": ["a", "b", "c", "d", "e"], "as": ["s", "v"]}],
   "mark": {"type": "line", "strokeWidth": 2, "interpolate": "monotone", "clip": true},
   "encoding": {"x": {"field": "t", "type": "quantitative", "title": null}, "y": {"field": "v", "type": "quantitative", "title": null},
    "color": {"field": "s", "type": "nominal", "legend": null}}},
  {"data": {"values": [{"label": "Sine"}]}, "mark": {"type": "text", "align": "left", "baseline": "alphabetic", "fontSize": 22, "fontWeight": "bold", "font": "DejaVu Serif"},
   "encoding": {"x": {"datum": 0.7}, "y": {"datum": 1.14}, "text": {"field": "label"}}}
 ]
},
{"width": 23, "height": 176, "view": {"stroke": null}, "data": {"values": [{"k": 0}]}, "mark": {"type": "text", "text": ""}, "encoding": {}},
{
 "title": "Violation (↓)", "width": 130, "height": 176,
 "layer": [
  {"data": {"name": "vst"}, "transform": [{"filter": "datum.g == 'Linear' && datum.m == 'Violation'"}],
   "mark": {"type": "rule", "color": "#555555", "strokeWidth": 2.5, "clip": true},
   "encoding": {
    "x": {"field": "c", "type": "quantitative", "title": null, "scale": {"domain": [0.5, 5.5], "nice": false, "zero": false}, "axis": {"values": [1, 2, 3, 4, 5], "tickCount": 10, "labels": false, "grid": false}},
    "y": {"field": "lo", "type": "quantitative", "title": null, "scale": {"type": "log", "domain": [1.62e-10, 0.00081], "nice": false}, "axis": {"values": [0.0001, 0.000001, 0.00000001], "tickCount": 10, "labelExpr": "datum.value > 0.00001 ? '10⁻⁴' : datum.value > 0.0000001 ? '10⁻⁶' : '10⁻⁸'", "grid": true}},
    "y2": {"field": "hi"}}},
  {"data": {"name": "vio"}, "transform": [{"filter": "datum.g == 'Linear' && datum.m == 'Violation'"}],
   "mark": {"type": "area", "orient": "horizontal", "stroke": "#555555", "strokeWidth": 1.5, "clip": true},
   "encoding": {
    "y": {"field": "y", "type": "quantitative", "title": null},
    "x": {"field": "xl", "type": "quantitative", "title": null},
    "x2": {"field": "xr"},
    "detail": {"field": "c", "type": "nominal"},
    "fill": {"field": "c", "type": "nominal", "scale": {"domain": [1, 2, 3, 4, 5], "range": ["#d4e5f4", "#8ec1e0", "#4b92c9", "#3671ae", "#435f8a"]}, "legend": null}}},
  {"data": {"name": "vst"}, "transform": [{"filter": "datum.g == 'Linear' && datum.m == 'Violation'"}],
   "mark": {"type": "rule", "color": "black", "strokeWidth": 4.5},
   "encoding": {"x": {"field": "c", "type": "quantitative", "title": null}, "y": {"field": "q1", "type": "quantitative", "title": null}, "y2": {"field": "q3"}}},
  {"data": {"values": [{}]}, "mark": {"type": "rule", "color": "#e5302a", "strokeWidth": 1.5},
   "encoding": {"y": {"datum": 0.00044}}}
 ]
},
{
 "title": {"text": "Skill", "dy": 33}, "width": 258, "height": 176,
 "layer": [
  {"data": {"name": "curves"}, "transform": [{"filter": "datum.g == 'Linear' && datum.m == 'Skill'"}],
   "mark": {"type": "area", "color": "#9ecae1", "opacity": 0.13, "interpolate": "monotone", "clip": true},
   "encoding": {
    "x": {"field": "t", "type": "quantitative", "title": null, "scale": {"domain": [-6.9, 130.3], "nice": false, "zero": false}, "axis": {"values": [0, 50, 100], "labels": false, "grid": true}},
    "y": {"field": "e", "type": "quantitative", "title": null, "scale": {"domain": [0, 1.075], "nice": false, "zero": false}, "axis": {"values": [0, 0.5, 1], "format": ".1f", "grid": true}},
    "y2": {"field": "a"}}},
  {"data": {"name": "curves"}, "transform": [{"filter": "datum.g == 'Linear' && datum.m == 'Skill'"}, {"fold": ["a", "b", "c", "d", "e"], "as": ["s", "v"]}],
   "mark": {"type": "line", "strokeWidth": 10, "opacity": 0.1, "interpolate": "monotone", "clip": true},
   "encoding": {"x": {"field": "t", "type": "quantitative", "title": null}, "y": {"field": "v", "type": "quantitative", "title": null},
    "color": {"field": "s", "type": "nominal", "scale": {"domain": ["a", "b", "c", "d", "e"], "range": ["#c6dbef", "#6baed6", "#2f7ebc", "#1361a9", "#08306b"]}, "legend": null}}},
  {"data": {"name": "curves"}, "transform": [{"filter": "datum.g == 'Linear' && datum.m == 'Skill'"}, {"fold": ["a", "b", "c", "d", "e"], "as": ["s", "v"]}],
   "mark": {"type": "line", "strokeWidth": 2, "interpolate": "monotone", "clip": true},
   "encoding": {"x": {"field": "t", "type": "quantitative", "title": null}, "y": {"field": "v", "type": "quantitative", "title": null},
    "color": {"field": "s", "type": "nominal", "legend": null}}},
  {"data": {"name": "spikes"}, "transform": [{"filter": "datum.g == 'Linear' && datum.m == 'Skill'"}],
   "mark": {"type": "rule", "strokeWidth": 2, "clip": true},
   "encoding": {"x": {"field": "t", "type": "quantitative", "title": null}, "y": {"field": "lo", "type": "quantitative", "title": null}, "y2": {"field": "hi"},
    "color": {"field": "s", "type": "nominal", "legend": null}}},
  {"data": {"values": [{"label": "Linear"}]}, "mark": {"type": "text", "align": "left", "baseline": "alphabetic", "fontSize": 22, "fontWeight": "bold", "font": "DejaVu Serif"},
   "encoding": {"x": {"datum": -6.7}, "y": {"datum": 1.17}, "text": {"field": "label"}}}
 ]
},
{
 "title": "Max-N.", "width": 131, "height": 176,
 "layer": [
  {"data": {"name": "vst"}, "transform": [{"filter": "datum.g == 'Sine' && datum.m == 'MaxN'"}],
   "mark": {"type": "rule", "color": "#555555", "strokeWidth": 2.5, "clip": true},
   "encoding": {
    "x": {"field": "c", "type": "quantitative", "title": null, "scale": {"domain": [0.5, 5.5], "nice": false, "zero": false}, "axis": {"values": [1, 2, 3, 4, 5], "tickCount": 10, "labels": false, "grid": false}},
    "y": {"field": "lo", "type": "quantitative", "title": null, "scale": {"domain": [0, 12.46], "nice": false, "zero": false}, "axis": {"values": [0, 5, 10], "grid": true}},
    "y2": {"field": "hi"}}},
  {"data": {"name": "vio"}, "transform": [{"filter": "datum.g == 'Sine' && datum.m == 'MaxN'"}],
   "mark": {"type": "area", "orient": "horizontal", "stroke": "#555555", "strokeWidth": 1.5, "clip": true},
   "encoding": {
    "y": {"field": "y", "type": "quantitative", "title": null},
    "x": {"field": "xl", "type": "quantitative", "title": null},
    "x2": {"field": "xr"},
    "detail": {"field": "c", "type": "nominal"},
    "fill": {"field": "c", "type": "nominal", "scale": {"domain": [1, 2, 3, 4, 5], "range": ["#d4e5f4", "#8ec1e0", "#4b92c9", "#3671ae", "#435f8a"]}, "legend": null}}},
  {"data": {"name": "vst"}, "transform": [{"filter": "datum.g == 'Sine' && datum.m == 'MaxN'"}],
   "mark": {"type": "rule", "color": "black", "strokeWidth": 4.5},
   "encoding": {"x": {"field": "c", "type": "quantitative", "title": null}, "y": {"field": "q1", "type": "quantitative", "title": null}, "y2": {"field": "q3"}}},
  {"data": {"values": [{}]}, "mark": {"type": "rule", "color": "#e5302a", "strokeWidth": 1.3, "strokeDash": [2, 2]},
   "encoding": {"y": {"datum": 1}}}
 ]
},
{
 "title": "RMSE", "width": 262, "height": 176,
 "layer": [
  {"data": {"name": "curves"}, "transform": [{"filter": "datum.g == 'Sine' && datum.m == 'RMSE'"}],
   "mark": {"type": "area", "color": "#9ecae1", "opacity": 0.13, "interpolate": "monotone", "clip": true},
   "encoding": {
    "x": {"field": "t", "type": "quantitative", "title": null, "scale": {"domain": [-6.4, 133.4], "nice": false, "zero": false}, "axis": {"values": [0, 50, 100], "labels": false, "grid": true}},
    "y": {"field": "e", "type": "quantitative", "title": null, "scale": {"domain": [0, 1.43], "nice": false, "zero": false}, "axis": {"values": [0, 0.5, 1], "format": ".1f", "grid": true}},
    "y2": {"field": "a"}}},
  {"data": {"name": "curves"}, "transform": [{"filter": "datum.g == 'Sine' && datum.m == 'RMSE'"}, {"fold": ["a", "b", "c", "d", "e"], "as": ["s", "v"]}],
   "mark": {"type": "line", "strokeWidth": 10, "opacity": 0.1, "interpolate": "monotone", "clip": true},
   "encoding": {"x": {"field": "t", "type": "quantitative", "title": null}, "y": {"field": "v", "type": "quantitative", "title": null},
    "color": {"field": "s", "type": "nominal", "scale": {"domain": ["a", "b", "c", "d", "e"], "range": ["#c6dbef", "#6baed6", "#2f7ebc", "#1361a9", "#08306b"]}, "legend": null}}},
  {"data": {"name": "curves"}, "transform": [{"filter": "datum.g == 'Sine' && datum.m == 'RMSE'"}, {"fold": ["a", "b", "c", "d", "e"], "as": ["s", "v"]}],
   "mark": {"type": "line", "strokeWidth": 2, "interpolate": "monotone", "clip": true},
   "encoding": {"x": {"field": "t", "type": "quantitative", "title": null}, "y": {"field": "v", "type": "quantitative", "title": null},
    "color": {"field": "s", "type": "nominal", "legend": null}}}
 ]
},
{"width": 23, "height": 176, "view": {"stroke": null}, "data": {"values": [{"k": 0}]}, "mark": {"type": "text", "text": ""}, "encoding": {}},
{
 "title": "Max-N.", "width": 130, "height": 176,
 "layer": [
  {"data": {"name": "vst"}, "transform": [{"filter": "datum.g == 'Linear' && datum.m == 'MaxN'"}],
   "mark": {"type": "rule", "color": "#555555", "strokeWidth": 2.5, "clip": true},
   "encoding": {
    "x": {"field": "c", "type": "quantitative", "title": null, "scale": {"domain": [0.5, 5.5], "nice": false, "zero": false}, "axis": {"values": [1, 2, 3, 4, 5], "tickCount": 10, "labels": false, "grid": false}},
    "y": {"field": "lo", "type": "quantitative", "title": null, "scale": {"domain": [0, 12.46], "nice": false, "zero": false}, "axis": {"values": [0, 5, 10], "grid": true}},
    "y2": {"field": "hi"}}},
  {"data": {"name": "vio"}, "transform": [{"filter": "datum.g == 'Linear' && datum.m == 'MaxN'"}],
   "mark": {"type": "area", "orient": "horizontal", "stroke": "#555555", "strokeWidth": 1.5, "clip": true},
   "encoding": {
    "y": {"field": "y", "type": "quantitative", "title": null},
    "x": {"field": "xl", "type": "quantitative", "title": null},
    "x2": {"field": "xr"},
    "detail": {"field": "c", "type": "nominal"},
    "fill": {"field": "c", "type": "nominal", "scale": {"domain": [1, 2, 3, 4, 5], "range": ["#d4e5f4", "#8ec1e0", "#4b92c9", "#3671ae", "#435f8a"]}, "legend": null}}},
  {"data": {"name": "vst"}, "transform": [{"filter": "datum.g == 'Linear' && datum.m == 'MaxN'"}],
   "mark": {"type": "rule", "color": "black", "strokeWidth": 4.5},
   "encoding": {"x": {"field": "c", "type": "quantitative", "title": null}, "y": {"field": "q1", "type": "quantitative", "title": null}, "y2": {"field": "q3"}}},
  {"data": {"values": [{}]}, "mark": {"type": "rule", "color": "#e5302a", "strokeWidth": 1.3, "strokeDash": [2, 2]},
   "encoding": {"y": {"datum": 1}}}
 ]
},
{
 "title": "RMSE", "width": 258, "height": 176,
 "layer": [
  {"data": {"name": "curves"}, "transform": [{"filter": "datum.g == 'Linear' && datum.m == 'RMSE'"}],
   "mark": {"type": "area", "color": "#9ecae1", "opacity": 0.13, "interpolate": "monotone", "clip": true},
   "encoding": {
    "x": {"field": "t", "type": "quantitative", "title": null, "scale": {"domain": [-6.9, 130.3], "nice": false, "zero": false}, "axis": {"values": [0, 50, 100], "labels": false, "grid": true}},
    "y": {"field": "e", "type": "quantitative", "title": null, "scale": {"domain": [0, 1.43], "nice": false, "zero": false}, "axis": {"values": [0, 0.5, 1], "format": ".1f", "grid": true}},
    "y2": {"field": "a"}}},
  {"data": {"name": "curves"}, "transform": [{"filter": "datum.g == 'Linear' && datum.m == 'RMSE'"}, {"fold": ["a", "b", "c", "d", "e"], "as": ["s", "v"]}],
   "mark": {"type": "line", "strokeWidth": 10, "opacity": 0.1, "interpolate": "monotone", "clip": true},
   "encoding": {"x": {"field": "t", "type": "quantitative", "title": null}, "y": {"field": "v", "type": "quantitative", "title": null},
    "color": {"field": "s", "type": "nominal", "scale": {"domain": ["a", "b", "c", "d", "e"], "range": ["#c6dbef", "#6baed6", "#2f7ebc", "#1361a9", "#08306b"]}, "legend": null}}},
  {"data": {"name": "curves"}, "transform": [{"filter": "datum.g == 'Linear' && datum.m == 'RMSE'"}, {"fold": ["a", "b", "c", "d", "e"], "as": ["s", "v"]}],
   "mark": {"type": "line", "strokeWidth": 2, "interpolate": "monotone", "clip": true},
   "encoding": {"x": {"field": "t", "type": "quantitative", "title": null}, "y": {"field": "v", "type": "quantitative", "title": null},
    "color": {"field": "s", "type": "nominal", "legend": null}}},
  {"data": {"name": "spikes"}, "transform": [{"filter": "datum.g == 'Linear' && datum.m == 'RMSE'"}],
   "mark": {"type": "rule", "strokeWidth": 2, "clip": true},
   "encoding": {"x": {"field": "t", "type": "quantitative", "title": null}, "y": {"field": "lo", "type": "quantitative", "title": null}, "y2": {"field": "hi"},
    "color": {"field": "s", "type": "nominal", "legend": null}}}
 ]
},
{
 "title": "Spread", "width": 131, "height": 176,
 "layer": [
  {"data": {"name": "curves"}, "transform": [{"filter": "datum.g == 'Sine' && datum.m == 'Spread'"}],
   "mark": {"type": "area", "color": "#9ecae1", "opacity": 0.13, "interpolate": "monotone", "clip": true},
   "encoding": {
    "x": {"field": "t", "type": "quantitative", "title": "t", "scale": {"domain": [-6.4, 133.6], "nice": false, "zero": false}, "axis": {"values": [0, 100], "grid": true}},
    "y": {"field": "e", "type": "quantitative", "title": null, "scale": {"domain": [0, 1.03], "nice": false, "zero": false}, "axis": {"values": [0, 0.5, 1], "format": ".1f", "grid": true}},
    "y2": {"field": "a"}}},
  {"data": {"name": "curves"}, "transform": [{"filter": "datum.g == 'Sine' && datum.m == 'Spread'"}, {"fold": ["a", "b", "c", "d", "e"], "as": ["s", "v"]}],
   "mark": {"type": "line", "strokeWidth": 8, "opacity": 0.1, "interpolate": "monotone", "clip": true},
   "encoding": {"x": {"field": "t", "type": "quantitative", "title": "t"}, "y": {"field": "v", "type": "quantitative", "title": null},
    "color": {"field": "s", "type": "nominal", "scale": {"domain": ["a", "b", "c", "d", "e"], "range": ["#c6dbef", "#6baed6", "#2f7ebc", "#1361a9", "#08306b"]}, "legend": null}}},
  {"data": {"name": "curves"}, "transform": [{"filter": "datum.g == 'Sine' && datum.m == 'Spread'"}, {"fold": ["a", "b", "c", "d", "e"], "as": ["s", "v"]}],
   "mark": {"type": "line", "strokeWidth": 2, "interpolate": "monotone", "clip": true},
   "encoding": {"x": {"field": "t", "type": "quantitative", "title": "t"}, "y": {"field": "v", "type": "quantitative", "title": null},
    "color": {"field": "s", "type": "nominal", "legend": null}}}
 ]
},
{
 "title": "CRPS", "width": 262, "height": 176,
 "layer": [
  {"data": {"name": "curves"}, "transform": [{"filter": "datum.g == 'Sine' && datum.m == 'CRPS'"}],
   "mark": {"type": "area", "color": "#9ecae1", "opacity": 0.13, "interpolate": "monotone", "clip": true},
   "encoding": {
    "x": {"field": "t", "type": "quantitative", "title": "t", "scale": {"domain": [-6.4, 133.4], "nice": false, "zero": false}, "axis": {"values": [0, 50, 100], "grid": true}},
    "y": {"field": "e", "type": "quantitative", "title": null, "scale": {"domain": [0, 0.6], "nice": false, "zero": false}, "axis": {"values": [0, 0.2, 0.4, 0.6], "format": ".1f", "grid": true, "gridOpacity": {"condition": {"test": "datum.value == 0 || datum.value >= 0.59", "value": 0}, "value": 1}}},
    "y2": {"field": "a"}}},
  {"data": {"name": "curves"}, "transform": [{"filter": "datum.g == 'Sine' && datum.m == 'CRPS'"}, {"fold": ["a", "b", "c", "d", "e"], "as": ["s", "v"]}],
   "mark": {"type": "line", "strokeWidth": 10, "opacity": 0.1, "interpolate": "monotone", "clip": true},
   "encoding": {"x": {"field": "t", "type": "quantitative", "title": "t"}, "y": {"field": "v", "type": "quantitative", "title": null},
    "color": {"field": "s", "type": "nominal", "scale": {"domain": ["a", "b", "c", "d", "e"], "range": ["#c6dbef", "#6baed6", "#2f7ebc", "#1361a9", "#08306b"]}, "legend": null}}},
  {"data": {"name": "curves"}, "transform": [{"filter": "datum.g == 'Sine' && datum.m == 'CRPS'"}, {"fold": ["a", "b", "c", "d", "e"], "as": ["s", "v"]}],
   "mark": {"type": "line", "strokeWidth": 2, "interpolate": "monotone", "clip": true},
   "encoding": {"x": {"field": "t", "type": "quantitative", "title": "t"}, "y": {"field": "v", "type": "quantitative", "title": null},
    "color": {"field": "s", "type": "nominal", "legend": null}}}
 ]
},
{"width": 23, "height": 176, "view": {"stroke": null}, "data": {"values": [{"k": 0}]}, "mark": {"type": "text", "text": ""}, "encoding": {}},
{
 "title": "Spread", "width": 130, "height": 176,
 "layer": [
  {"data": {"name": "curves"}, "transform": [{"filter": "datum.g == 'Linear' && datum.m == 'Spread'"}],
   "mark": {"type": "area", "color": "#9ecae1", "opacity": 0.13, "interpolate": "monotone", "clip": true},
   "encoding": {
    "x": {"field": "t", "type": "quantitative", "title": "t", "scale": {"domain": [-6.1, 132.2], "nice": false, "zero": false}, "axis": {"values": [0, 100], "grid": true}},
    "y": {"field": "e", "type": "quantitative", "title": null, "scale": {"domain": [0, 1.013], "nice": false, "zero": false}, "axis": {"values": [0, 0.5, 1], "format": ".1f", "grid": true}},
    "y2": {"field": "a"}}},
  {"data": {"name": "curves"}, "transform": [{"filter": "datum.g == 'Linear' && datum.m == 'Spread'"}, {"fold": ["a", "b", "c", "d", "e"], "as": ["s", "v"]}],
   "mark": {"type": "line", "strokeWidth": 8, "opacity": 0.1, "interpolate": "monotone", "clip": true},
   "encoding": {"x": {"field": "t", "type": "quantitative", "title": "t"}, "y": {"field": "v", "type": "quantitative", "title": null},
    "color": {"field": "s", "type": "nominal", "scale": {"domain": ["a", "b", "c", "d", "e"], "range": ["#c6dbef", "#6baed6", "#2f7ebc", "#1361a9", "#08306b"]}, "legend": null}}},
  {"data": {"name": "curves"}, "transform": [{"filter": "datum.g == 'Linear' && datum.m == 'Spread'"}, {"fold": ["a", "b", "c", "d", "e"], "as": ["s", "v"]}],
   "mark": {"type": "line", "strokeWidth": 2, "interpolate": "monotone", "clip": true},
   "encoding": {"x": {"field": "t", "type": "quantitative", "title": "t"}, "y": {"field": "v", "type": "quantitative", "title": null},
    "color": {"field": "s", "type": "nominal", "legend": null}}},
  {"data": {"name": "spikes"}, "transform": [{"filter": "datum.g == 'Linear' && datum.m == 'Spread'"}],
   "mark": {"type": "rule", "strokeWidth": 2, "clip": true},
   "encoding": {"x": {"field": "t", "type": "quantitative", "title": "t"}, "y": {"field": "lo", "type": "quantitative", "title": null}, "y2": {"field": "hi"},
    "color": {"field": "s", "type": "nominal", "legend": null}}}
 ]
},
{
 "title": "CRPS", "width": 258, "height": 176,
 "layer": [
  {"data": {"name": "curves"}, "transform": [{"filter": "datum.g == 'Linear' && datum.m == 'CRPS'"}],
   "mark": {"type": "area", "color": "#9ecae1", "opacity": 0.13, "interpolate": "monotone", "clip": true},
   "encoding": {
    "x": {"field": "t", "type": "quantitative", "title": "t", "scale": {"domain": [-6.9, 130.3], "nice": false, "zero": false}, "axis": {"values": [0, 50, 100], "grid": true}},
    "y": {"field": "e", "type": "quantitative", "title": null, "scale": {"domain": [0, 0.617], "nice": false, "zero": false}, "axis": {"values": [0, 0.2, 0.4, 0.6], "format": ".1f", "grid": true}},
    "y2": {"field": "a"}}},
  {"data": {"name": "curves"}, "transform": [{"filter": "datum.g == 'Linear' && datum.m == 'CRPS'"}, {"fold": ["a", "b", "c", "d", "e"], "as": ["s", "v"]}],
   "mark": {"type": "line", "strokeWidth": 10, "opacity": 0.1, "interpolate": "monotone", "clip": true},
   "encoding": {"x": {"field": "t", "type": "quantitative", "title": "t"}, "y": {"field": "v", "type": "quantitative", "title": null},
    "color": {"field": "s", "type": "nominal", "scale": {"domain": ["a", "b", "c", "d", "e"], "range": ["#c6dbef", "#6baed6", "#2f7ebc", "#1361a9", "#08306b"]}, "legend": null}}},
  {"data": {"name": "curves"}, "transform": [{"filter": "datum.g == 'Linear' && datum.m == 'CRPS'"}, {"fold": ["a", "b", "c", "d", "e"], "as": ["s", "v"]}],
   "mark": {"type": "line", "strokeWidth": 2, "interpolate": "monotone", "clip": true},
   "encoding": {"x": {"field": "t", "type": "quantitative", "title": "t"}, "y": {"field": "v", "type": "quantitative", "title": null},
    "color": {"field": "s", "type": "nominal", "legend": null}}}
 ]
}
]
}
